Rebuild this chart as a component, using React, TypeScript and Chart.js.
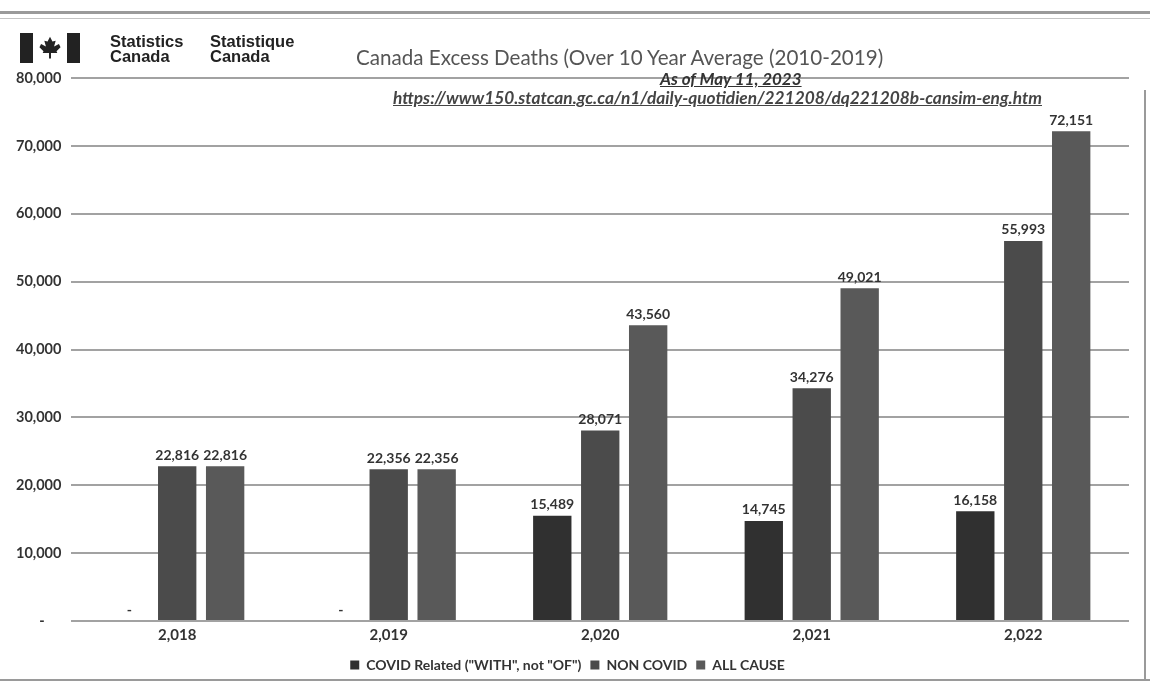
import React, { useEffect, useRef } from "react";
import { Chart, registerables } from "chart.js";

Chart.register(...registerables);

// Excess deaths in Canada by year, split by cause
const years = ["2,018", "2,019", "2,020", "2,021", "2,022"];
const covidRelated = [0, 0, 15489, 14745, 16158];
const nonCovid = [22816, 22356, 28071, 34276, 55993];
const allCause = [22816, 22356, 43560, 49021, 72151];

const seriesNames = ['COVID Related ("WITH", not "OF")', "NON COVID", "ALL CAUSE"];
const seriesColors = ["#303030", "#4b4b4b", "#595959"];

const yMax = 80000;
const yStep = 10000;

const FONT = "Lato, 'Liberation Sans', sans-serif";
const HELV = "'Liberation Sans', Arial, sans-serif";

// Accounting style: zero is shown as a dash
const fmt = (v: number) => (v === 0 ? "-" : v.toLocaleString("en-US"));
// On the axis the dash sits indented, as in an accounting column
const fmtAxis = (v: number) => (v === 0 ? "-\u2007\u2007" : v.toLocaleString("en-US"));

const valueLabels = {
  id: "valueLabels",
  afterDatasetsDraw(chart: any) {
    const { ctx } = chart;
    ctx.save();
    ctx.font = `bold 14px ${FONT}`;
    ctx.fillStyle = "#333";
    ctx.textAlign = "center";
    ctx.textBaseline = "bottom";
    chart.data.datasets.forEach((ds: any, i: number) => {
      const meta = chart.getDatasetMeta(i);
      meta.data.forEach((el: any, j: number) => {
        const v = ds.data[j] as number;
        ctx.fillText(fmt(v), el.x, el.y - 4);
      });
    });
    ctx.restore();
  },
};

function ExcessDeathsChart() {
  const ref = useRef<HTMLCanvasElement>(null);
  useEffect(() => {
    if (!ref.current) return;
    const chart = new Chart(ref.current, {
      type: "bar",
      data: {
        labels: years,
        datasets: [covidRelated, nonCovid, allCause].map((d, i) => ({
          label: seriesNames[i],
          data: d,
          backgroundColor: seriesColors[i],
          borderWidth: 0,
          categoryPercentage: 0.68,
          barPercentage: 0.8,
        })),
      },
      options: {
        animation: false,
        responsive: false,
        maintainAspectRatio: false,
        layout: { padding: { top: 78, left: 6, right: 21, bottom: 7 } },
        plugins: {
          legend: {
            position: "bottom",
            labels: {
              boxWidth: 9,
              boxHeight: 9,
              padding: 9,
              color: "#333",
              font: { family: FONT, size: 14, weight: "bold" },
            },
          },
          tooltip: { enabled: false },
          title: { display: false },
        },
        scales: {
          x: {
            grid: { display: false, drawTicks: false },
            border: { display: false },
            ticks: {
              color: "#333",
              padding: 5,
              font: { family: FONT, size: 15, weight: "bold" },
            },
          },
          y: {
            min: 0,
            max: yMax,
            ticks: {
              stepSize: yStep,
              color: "#333",
              padding: 10,
              font: { family: FONT, size: 14.5, weight: "bold" },
              callback: (v: any) => fmtAxis(Number(v)),
            },
            grid: { color: "#a2a2a2", lineWidth: 2, drawTicks: false },
            border: { display: false },
          },
        },
      },
      plugins: [valueLabels],
    });
    return () => chart.destroy();
  }, []);
  return <canvas ref={ref} width={1150} height={689} style={{ display: "block" }} />;
}

function MapleLeaf() {
  return (
    <svg width="26" height="26" viewBox="0 0 16 16" style={{ position: "absolute", left: 37, top: 35 }}>
      <polygon
        points="8,1 9.5,4 11.5,3.5 10.5,7 13.5,5.5 14.5,7.5 12,10 12.5,11 8.6,11 8.6,14.5 7.4,14.5 7.4,11 3.5,11 4,10 1.5,7.5 2.5,5.5 5.5,7 4.5,3.5 6.5,4"
        fill="#222"
      />
    </svg>
  );
}

export default function App() {
  const text = (s: React.CSSProperties): React.CSSProperties => ({
    position: "absolute",
    whiteSpace: "nowrap",
    fontFamily: FONT,
    ...s,
  });
  return (
    <div style={{ position: "absolute", left: 0, top: 0, width: 1150, height: 689, background: "#fff", overflow: "hidden" }}>
      <ExcessDeathsChart />
      {/* page frame lines */}
      <div style={{ position: "absolute", left: 0, top: 11, width: 1150, height: 3, background: "#9a9a9a" }} />
      <div style={{ position: "absolute", left: 0, top: 18, width: 1150, height: 1, background: "#c4c4c4" }} />
      <div style={{ position: "absolute", left: 0, top: 679, width: 1150, height: 2, background: "#9a9a9a" }} />
      <div style={{ position: "absolute", left: 1144, top: 90, width: 2, height: 590, background: "#9a9a9a" }} />

      {/* agency wordmark */}
      <div style={{ position: "absolute", left: 20, top: 33, width: 13, height: 30, background: "#222" }} />
      <div style={{ position: "absolute", left: 67, top: 33, width: 13, height: 30, background: "#222" }} />
      <MapleLeaf />
      <div style={text({ left: 110, top: 34, fontFamily: HELV, fontSize: 16.5, fontWeight: 700, lineHeight: "15px", color: "#222" })}>
        Statistics
        <br />
        Canada
      </div>
      <div style={text({ left: 210, top: 34, fontFamily: HELV, fontSize: 16.5, fontWeight: 700, lineHeight: "15px", color: "#222" })}>
        Statistique
        <br />
        Canada
      </div>

      {/* headings */}
      <div style={text({ left: 356, top: 44, fontSize: 20.6, lineHeight: "26px", color: "#555" })}>
        Canada Excess Deaths (Over 10 Year Average (2010-2019)
      </div>
      <div style={text({ left: 660, top: 69, fontSize: 17, lineHeight: "20px", fontWeight: 700, fontStyle: "italic", textDecoration: "underline", color: "#333" })}>
        As of May 11, 2023
      </div>
      <div style={text({ left: 393, top: 88, fontSize: 17.3, lineHeight: "20px", fontWeight: 700, fontStyle: "italic", textDecoration: "underline", color: "#444" })}>
        https://www150.statcan.gc.ca/n1/daily-quotidien/221208/dq221208b-cansim-eng.htm
      </div>
    </div>
  );
}
